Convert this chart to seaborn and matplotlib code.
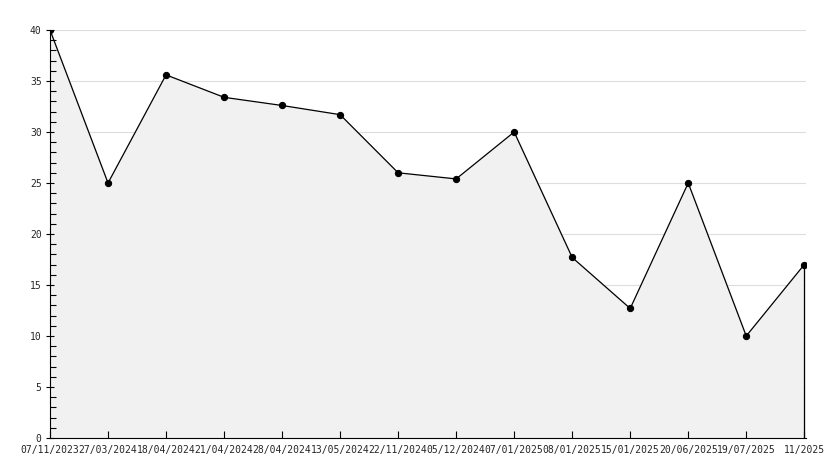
import numpy as np
import pandas as pd
import matplotlib
matplotlib.use("Agg")
import matplotlib.pyplot as plt
import seaborn as sns
from matplotlib.ticker import MultipleLocator

# Values
dates = ["07/11/2023", "27/03/2024", "18/04/2024", "21/04/2024", "28/04/2024",
         "13/05/2024", "22/11/2024", "05/12/2024", "07/01/2025", "08/01/2025",
         "15/01/2025", "20/06/2025", "19/07/2025", "11/2025"]
values = [40, 25, 35.6, 33.4, 32.6, 31.7, 26.0, 25.4, 30.0, 17.7, 12.7, 25.0, 10.0, 17.0]

sns.set_style("white", {"xtick.bottom": True, "ytick.left": True})
plt.rcParams['font.family'] = ['DejaVu Sans Mono', 'DejaVu Sans']

df = pd.DataFrame({"idx": np.arange(len(values)), "value": values})

fig = plt.figure(figsize=(8.34, 4.68), dpi=100)
ax = fig.add_axes([50 / 834, 1 - 438 / 468, 756 / 834, 408 / 468])

# horizontal grid behind the filled area
for gy in range(5, 45, 5):
    ax.axhline(gy, color="#dddddd", linewidth=0.8, zorder=0.5)

# light grey area under the line
ax.fill_between(df["idx"], df["value"], 0, color="#f1f1f1", zorder=1)
sns.lineplot(data=df, x="idx", y="value", ax=ax, color="black", linewidth=0.9,
             marker="o", markersize=4.5, markeredgecolor="black", zorder=3)
ax.vlines(df["idx"].iloc[-1], 0, df["value"].iloc[-1], color="black", linewidth=0.9, zorder=3)

ax.set_xlim(0, len(values) - 1 + 0.03)
ax.set_ylim(0, 40)
ax.set_xticks(df["idx"])
ax.set_xticklabels(dates)
ax.yaxis.set_major_locator(MultipleLocator(5))
ax.yaxis.set_minor_locator(MultipleLocator(1))
ax.grid(False)
ax.set_axisbelow(False)

ax.tick_params(axis="x", bottom=True, direction="in", length=5, width=0.8, labelsize=7, pad=5, color="black")
ax.tick_params(axis="y", which="major", left=True, direction="inout", length=6, width=0.8, labelsize=7, pad=3, color="black")
ax.tick_params(axis="y", which="minor", left=True, direction="in", length=4, width=0.8, color="black")
ax.set_xlabel("")
ax.set_ylabel("")

for side in ["top", "right"]:
    ax.spines[side].set_visible(False)
for side in ["left", "bottom"]:
    ax.spines[side].set_color("black")
    ax.spines[side].set_linewidth(0.8)

fig.savefig("out.png", dpi=100)
plt.close(fig)
